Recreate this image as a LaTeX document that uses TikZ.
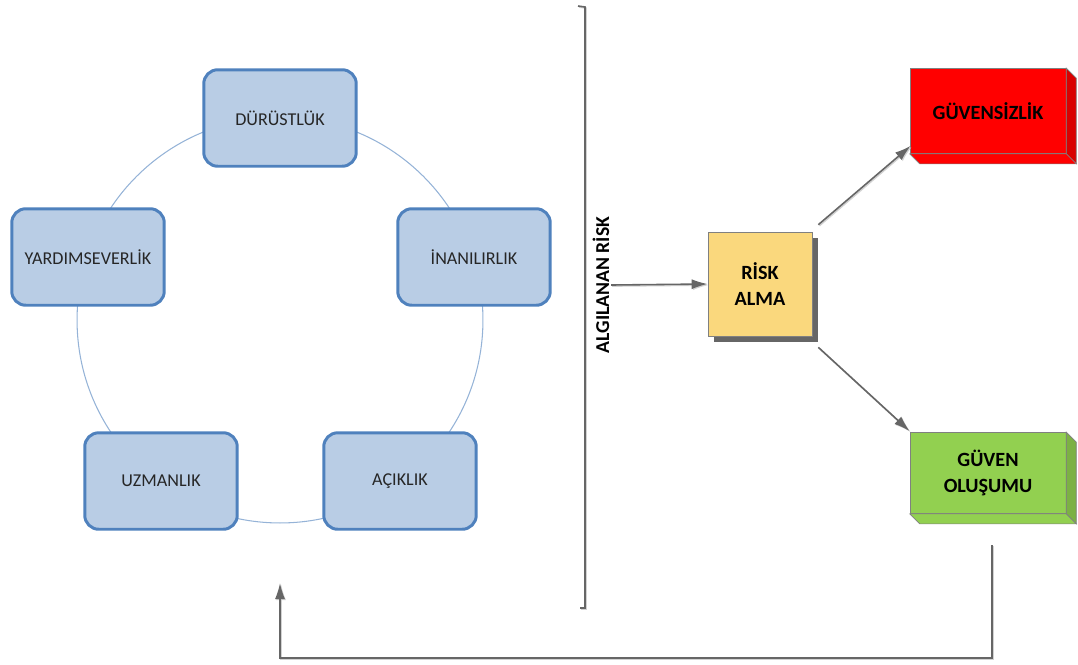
\documentclass[tikz,border=0pt]{standalone}
\usepackage{fontspec}
\setmainfont{Carlito}
\usepackage{tikz}
\usetikzlibrary{shapes,positioning,calc}
\usetikzlibrary{arrows.meta,shadows}
\definecolor{kutumavi}{HTML}{B9CDE5}
\definecolor{kenarmavi}{HTML}{4F81BD}
\definecolor{halka}{HTML}{95B3D7}
\definecolor{riskturuncu}{HTML}{FAD87D}
\definecolor{guvenyesil}{HTML}{92D050}
\tikzstyle{ozellik} = [rectangle, rounded corners=0.28cm, minimum width=3.05cm, minimum height=1.93cm, text centered, draw=kenarmavi, line width=1.7pt, fill=kutumavi, text=black!85, font=\fontsize{10.3}{12}\selectfont]
\tikzstyle{riskkutu} = [rectangle, minimum width=2.08cm, minimum height=2.08cm, align=center, draw=gray, fill=riskturuncu, font=\fontsize{11.5}{15}\selectfont\bfseries, drop shadow={shadow xshift=1.2mm, shadow yshift=-1.2mm, opacity=0.6, fill=black}]
\tikzstyle{sonuc} = [rectangle, minimum width=3.12cm, align=center, draw=gray, font=\fontsize{11.5}{15}\selectfont\bfseries]
\tikzstyle{arrow} = [line width=0.9pt, draw=gray!80!black, -{Latex[length=3.2mm,width=2mm]}, preaction={draw=gray!35, line width=0.9pt, transform canvas={shift={(0.6pt,-0.6pt)}}}]
\tikzstyle{cizgi} = [line width=0.9pt, draw=gray!80!black, preaction={draw=gray!35, line width=0.9pt, transform canvas={shift={(0.6pt,-0.6pt)}}}]

\begin{document}
\begin{tikzpicture}[x=0.02cm, y=-0.02cm]
\useasboundingbox (0,0) rectangle (1078,664);
% ozellikler halkasi
\node (ring) at (280,320) [circle, draw=halka, line width=0.6pt, minimum size=8.12cm] {};
\node (durust) at (280,118) [ozellik] {DÜRÜSTLÜK};
\node (yardim) at (88,257) [ozellik] {YARDIMSEVERLİK};
\node (inan) at (474,257) [ozellik] {İNANILIRLIK};
\node (uzman) at (161,481) [ozellik] {UZMANLIK};
\node (acik) at (400,481) [ozellik] {AÇIKLIK};

% algilanan risk
\coordinate (br1) at (578,6);
\coordinate (br2) at (585,7);
\coordinate (br3) at (585,608);
\coordinate (br4) at (580,608);
\draw[cizgi] (br1) -- (br2) -- (br3) -- (br4);
\node (algi) at (601,285) [rotate=90, font=\fontsize{11.2}{12}\selectfont\bfseries] {ALGILANAN RİSK};
\node (risk) at (760,284) [riskkutu] {RİSK\\ALMA};
\coordinate (ok1) at (611,285);
\draw[arrow] (ok1) -- (risk.west);

% sonuclar
\node (guvsiz) at (988,111) [sonuc, fill=red, minimum height=1.7cm] {GÜVENSİZLİK};
\fill[red!85!black, draw=gray] (guvsiz.north east) -- ($(guvsiz.north east)+(10,10)$) -- ($(guvsiz.south east)+(10,10)$) -- (guvsiz.south east) -- cycle;
\fill[red, draw=gray] (guvsiz.south west) -- ($(guvsiz.south west)+(10,10)$) -- ($(guvsiz.south east)+(10,10)$) -- (guvsiz.south east) -- cycle;
\node (guven) at (988,473) [sonuc, fill=guvenyesil, minimum height=1.62cm] {GÜVEN\\OLUŞUMU};
\fill[guvenyesil!85!black, draw=gray] (guven.north east) -- ($(guven.north east)+(10,10)$) -- ($(guven.south east)+(10,10)$) -- (guven.south east) -- cycle;
\fill[guvenyesil, draw=gray] (guven.south west) -- ($(guven.south west)+(10,10)$) -- ($(guven.south east)+(10,10)$) -- (guven.south east) -- cycle;
\draw[arrow] ($(risk.north east)+(6,-7)$) -- ($(guvsiz.south west)+(1,-8)$);
\draw[arrow] ($(risk.south east)+(6,11)$) -- ($(guven.north west)+(0,-1)$);

% geri besleme
\coordinate (gb1) at (992,545);
\coordinate (gb2) at (992,658);
\coordinate (gb3) at (280,658);
\coordinate (gb4) at (280,583);
\draw[arrow] (gb1) -- (gb2) -- (gb3) -- (gb4);
\end{tikzpicture}
\end{document}
